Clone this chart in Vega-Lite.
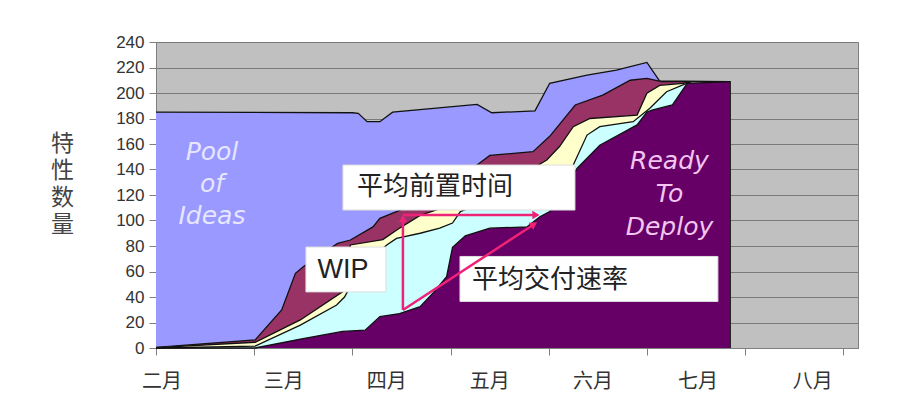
{
  "$schema": "https://vega.github.io/schema/vega-lite/v6.json",
  "width": 702,
  "height": 306,
  "autosize": "none",
  "padding": {"left": 156, "top": 42, "right": 53, "bottom": 61},
  "background": "white",
  "config": {
    "font": "Liberation Sans",
    "view": {"fill": "#C0C0C0", "stroke": "#7F7F7F", "strokeWidth": 1}
  },
  "resolve": {"axis": {"x": "independent", "y": "independent"}},
  "layer": [
    {
      "data": {
        "values": [
          {"s": "ideas", "t": 0, "v": 185}, {"s": "ideas", "t": 2.0, "v": 184.5}, {"s": "ideas", "t": 2.06, "v": 184},
          {"s": "ideas", "t": 2.15, "v": 177.5}, {"s": "ideas", "t": 2.28, "v": 177.5}, {"s": "ideas", "t": 2.41, "v": 185},
          {"s": "ideas", "t": 3.27, "v": 191}, {"s": "ideas", "t": 3.42, "v": 184.5}, {"s": "ideas", "t": 3.86, "v": 186},
          {"s": "ideas", "t": 4.01, "v": 207.6}, {"s": "ideas", "t": 4.39, "v": 214}, {"s": "ideas", "t": 4.69, "v": 218},
          {"s": "ideas", "t": 5.0, "v": 224}, {"s": "ideas", "t": 5.13, "v": 209.4}, {"s": "ideas", "t": 5.85, "v": 209},

          {"s": "stage1", "t": 0, "v": 0.5}, {"s": "stage1", "t": 1.01, "v": 6.3}, {"s": "stage1", "t": 1.28, "v": 29.8},
          {"s": "stage1", "t": 1.42, "v": 58.6}, {"s": "stage1", "t": 1.5, "v": 63.8}, {"s": "stage1", "t": 1.85, "v": 82},
          {"s": "stage1", "t": 1.98, "v": 84.7}, {"s": "stage1", "t": 2.21, "v": 95}, {"s": "stage1", "t": 2.28, "v": 101.7},
          {"s": "stage1", "t": 2.45, "v": 107}, {"s": "stage1", "t": 2.6, "v": 112}, {"s": "stage1", "t": 2.98, "v": 128},
          {"s": "stage1", "t": 3.27, "v": 143.5}, {"s": "stage1", "t": 3.4, "v": 151}, {"s": "stage1", "t": 3.84, "v": 154},
          {"s": "stage1", "t": 4.01, "v": 166}, {"s": "stage1", "t": 4.27, "v": 190.6}, {"s": "stage1", "t": 4.55, "v": 198.4},
          {"s": "stage1", "t": 4.83, "v": 210}, {"s": "stage1", "t": 5.0, "v": 211.5}, {"s": "stage1", "t": 5.15, "v": 209},
          {"s": "stage1", "t": 5.85, "v": 209},

          {"s": "stage2", "t": 0, "v": 0.3}, {"s": "stage2", "t": 1.01, "v": 4.5}, {"s": "stage2", "t": 1.47, "v": 22},
          {"s": "stage2", "t": 1.9, "v": 44}, {"s": "stage2", "t": 1.96, "v": 70}, {"s": "stage2", "t": 1.98, "v": 80.8},
          {"s": "stage2", "t": 2.31, "v": 85}, {"s": "stage2", "t": 2.46, "v": 93}, {"s": "stage2", "t": 2.69, "v": 104},
          {"s": "stage2", "t": 3.0, "v": 112}, {"s": "stage2", "t": 3.6, "v": 130}, {"s": "stage2", "t": 3.98, "v": 147.5},
          {"s": "stage2", "t": 4.11, "v": 158}, {"s": "stage2", "t": 4.25, "v": 173.6}, {"s": "stage2", "t": 4.42, "v": 180},
          {"s": "stage2", "t": 4.9, "v": 182.7}, {"s": "stage2", "t": 5.0, "v": 199.8}, {"s": "stage2", "t": 5.13, "v": 206},
          {"s": "stage2", "t": 5.37, "v": 207.6}, {"s": "stage2", "t": 5.44, "v": 209}, {"s": "stage2", "t": 5.85, "v": 209},

          {"s": "stage3", "t": 0, "v": 0}, {"s": "stage3", "t": 1.01, "v": 1.5}, {"s": "stage3", "t": 1.47, "v": 18},
          {"s": "stage3", "t": 1.84, "v": 33.7}, {"s": "stage3", "t": 1.92, "v": 40}, {"s": "stage3", "t": 2.08, "v": 62},
          {"s": "stage3", "t": 2.35, "v": 80.8}, {"s": "stage3", "t": 2.45, "v": 86}, {"s": "stage3", "t": 2.69, "v": 90},
          {"s": "stage3", "t": 2.89, "v": 94}, {"s": "stage3", "t": 3.02, "v": 98}, {"s": "stage3", "t": 3.1, "v": 107},
          {"s": "stage3", "t": 3.2, "v": 110}, {"s": "stage3", "t": 3.8, "v": 114}, {"s": "stage3", "t": 4.1, "v": 126},
          {"s": "stage3", "t": 4.25, "v": 143.5}, {"s": "stage3", "t": 4.39, "v": 167}, {"s": "stage3", "t": 4.52, "v": 173.6},
          {"s": "stage3", "t": 4.86, "v": 177.5}, {"s": "stage3", "t": 5.03, "v": 188}, {"s": "stage3", "t": 5.2, "v": 201},
          {"s": "stage3", "t": 5.41, "v": 207.8}, {"s": "stage3", "t": 5.46, "v": 209}, {"s": "stage3", "t": 5.85, "v": 209},

          {"s": "ready", "t": 0, "v": 0}, {"s": "ready", "t": 1.01, "v": 0}, {"s": "ready", "t": 1.47, "v": 7},
          {"s": "ready", "t": 1.9, "v": 13}, {"s": "ready", "t": 2.13, "v": 14}, {"s": "ready", "t": 2.28, "v": 24.6},
          {"s": "ready", "t": 2.48, "v": 27}, {"s": "ready", "t": 2.69, "v": 32.4}, {"s": "ready", "t": 2.82, "v": 43},
          {"s": "ready", "t": 2.96, "v": 56}, {"s": "ready", "t": 3.02, "v": 79}, {"s": "ready", "t": 3.15, "v": 88},
          {"s": "ready", "t": 3.4, "v": 94}, {"s": "ready", "t": 3.78, "v": 95}, {"s": "ready", "t": 3.91, "v": 103},
          {"s": "ready", "t": 4.01, "v": 107}, {"s": "ready", "t": 4.29, "v": 141}, {"s": "ready", "t": 4.52, "v": 159},
          {"s": "ready", "t": 4.9, "v": 175}, {"s": "ready", "t": 5.0, "v": 185}, {"s": "ready", "t": 5.06, "v": 186.7},
          {"s": "ready", "t": 5.26, "v": 190.6}, {"s": "ready", "t": 5.41, "v": 207.6}, {"s": "ready", "t": 5.85, "v": 209}
        ]
      },
      "encoding": {
        "x": {
          "field": "t", "type": "quantitative",
          "scale": {"domain": [0, 7.15], "nice": false, "zero": false},
          "axis": {"values": [0, 1, 2, 3, 4, 5, 6, 7], "labels": false, "grid": false, "title": null,
                   "domainColor": "#7F7F7F", "tickColor": "#7F7F7F", "tickSize": 7}
        },
        "y": {
          "field": "v", "type": "quantitative",
          "scale": {"domain": [0, 240], "nice": false},
          "axis": {
            "values": [0, 20, 40, 60, 80, 100, 120, 140, 160, 180, 200, 220, 240],
            "grid": true, "gridColor": "#7A7A7A", "gridWidth": 1, "domain": false,
            "tickColor": "#7F7F7F", "tickSize": 7, "labelFontSize": 17, "labelColor": "#333333", "labelPadding": 5,
            "title": ["特", "性", "数", "量"], "titleAngle": 0, "titleFont": "Noto Sans CJK SC", "titleFontSize": 23,
            "titleFontWeight": "normal", "titleColor": "#444444", "titleX": -94, "titleY": 101,
            "titleAlign": "center", "titleBaseline": "middle", "titleLineHeight": 27
          }
        }
      },
      "layer": [
        {"transform": [{"filter": "datum.s === 'ideas'"}], "mark": {"type": "area", "color": "#9999FF", "opacity": 1, "line": {"color": "#111111", "strokeWidth": 1.3}}},
        {"transform": [{"filter": "datum.s === 'stage1'"}], "mark": {"type": "area", "color": "#993366", "opacity": 1, "line": {"color": "#111111", "strokeWidth": 1.3}}},
        {"transform": [{"filter": "datum.s === 'stage2'"}], "mark": {"type": "area", "color": "#FFFFCC", "opacity": 1, "line": {"color": "#111111", "strokeWidth": 1.3}}},
        {"transform": [{"filter": "datum.s === 'stage3'"}], "mark": {"type": "area", "color": "#CCFFFF", "opacity": 1, "line": {"color": "#111111", "strokeWidth": 1.3}}},
        {"transform": [{"filter": "datum.s === 'ready'"}], "mark": {"type": "area", "color": "#660066", "opacity": 1, "line": {"color": "#111111", "strokeWidth": 1.3}}}
      ]
    },
    {
      "data": {"values": [{}]},
      "mark": {"type": "rule", "color": "#222222", "strokeWidth": 1.2},
      "encoding": {
        "x": {"datum": 5.85, "type": "quantitative", "scale": {"domain": [0, 7.15]}, "axis": null},
        "y": {"datum": 0, "type": "quantitative", "scale": {"domain": [0, 240]}, "axis": null},
        "y2": {"datum": 209}
      }
    },
    {
      "data": {"values": [{"m": "二月", "t": 0.06}, {"m": "三月", "t": 1.3}, {"m": "四月", "t": 2.35}, {"m": "五月", "t": 3.4},
                          {"m": "六月", "t": 4.45}, {"m": "七月", "t": 5.52}, {"m": "八月", "t": 6.69}]},
      "mark": {"type": "text", "font": "Noto Sans CJK SC", "fontSize": 20, "color": "#333333", "baseline": "middle"},
      "encoding": {
        "x": {"field": "t", "type": "quantitative", "scale": {"domain": [0, 7.15]}, "axis": null},
        "y": {"datum": -26.7, "type": "quantitative", "scale": {"domain": [0, 240]}, "axis": null},
        "text": {"field": "m"}
      }
    },
    {
      "data": {"values": [{}]},
      "mark": {"type": "text", "text": ["Pool", "of", "Ideas"], "font": "DejaVu Sans", "fontStyle": "italic", "fontSize": 25,
               "lineHeight": 32, "color": "#E6E6FF", "baseline": "middle"},
      "encoding": {
        "x": {"datum": 0.57, "type": "quantitative", "scale": {"domain": [0, 7.15]}, "axis": null},
        "y": {"datum": 153.7, "type": "quantitative", "scale": {"domain": [0, 240]}, "axis": null}
      }
    },
    {
      "data": {"values": [{}]},
      "mark": {"type": "text", "text": ["Ready", "To", "Deploy"], "font": "DejaVu Sans", "fontStyle": "italic", "fontSize": 25,
               "lineHeight": 33, "color": "#F2C6F0", "baseline": "middle"},
      "encoding": {
        "x": {"datum": 5.23, "type": "quantitative", "scale": {"domain": [0, 7.15]}, "axis": null},
        "y": {"datum": 147, "type": "quantitative", "scale": {"domain": [0, 240]}, "axis": null}
      }
    },
    {
      "data": {"values": [{}]},
      "mark": {"type": "rect", "fill": "white", "stroke": "#DDDDDD", "strokeWidth": 1},
      "encoding": {
        "x": {"datum": 1.904, "type": "quantitative", "scale": {"domain": [0, 7.15]}, "axis": null},
        "x2": {"datum": 4.267},
        "y": {"datum": 108.2, "type": "quantitative", "scale": {"domain": [0, 240]}, "axis": null},
        "y2": {"datum": 143.5}
      }
    },
    {
      "data": {"values": [{}]},
      "mark": {"type": "rect", "fill": "white", "stroke": "#DDDDDD", "strokeWidth": 1},
      "encoding": {
        "x": {"datum": 1.527, "type": "quantitative", "scale": {"domain": [0, 7.15]}, "axis": null},
        "x2": {"datum": 2.342},
        "y": {"datum": 44.0, "type": "quantitative", "scale": {"domain": [0, 240]}, "axis": null},
        "y2": {"datum": 79.2}
      }
    },
    {
      "data": {"values": [{}]},
      "mark": {"type": "rect", "fill": "white", "stroke": "#DDDDDD", "strokeWidth": 1},
      "encoding": {
        "x": {"datum": 3.096, "type": "quantitative", "scale": {"domain": [0, 7.15]}, "axis": null},
        "x2": {"datum": 5.723},
        "y": {"datum": 36.5, "type": "quantitative", "scale": {"domain": [0, 240]}, "axis": null},
        "y2": {"datum": 71.8}
      }
    },
    {
      "data": {"values": [{}]},
      "mark": {"type": "text", "text": "平均前置时间", "font": "Noto Sans CJK SC", "fontSize": 26, "color": "#222222", "align": "left", "baseline": "middle"},
      "encoding": {
        "x": {"datum": 2.047, "type": "quantitative", "scale": {"domain": [0, 7.15]}, "axis": null},
        "y": {"datum": 126.3, "type": "quantitative", "scale": {"domain": [0, 240]}, "axis": null}
      }
    },
    {
      "data": {"values": [{}]},
      "mark": {"type": "text", "text": "WIP", "font": "Liberation Sans", "fontSize": 27, "color": "#222222", "align": "center", "baseline": "middle"},
      "encoding": {
        "x": {"datum": 1.904, "type": "quantitative", "scale": {"domain": [0, 7.15]}, "axis": null},
        "y": {"datum": 61.2, "type": "quantitative", "scale": {"domain": [0, 240]}, "axis": null}
      }
    },
    {
      "data": {"values": [{}]},
      "mark": {"type": "text", "text": "平均交付速率", "font": "Noto Sans CJK SC", "fontSize": 26, "color": "#222222", "align": "left", "baseline": "middle"},
      "encoding": {
        "x": {"datum": 3.218, "type": "quantitative", "scale": {"domain": [0, 7.15]}, "axis": null},
        "y": {"datum": 53.3, "type": "quantitative", "scale": {"domain": [0, 240]}, "axis": null}
      }
    },
    {
      "data": {"values": [{}]},
      "mark": {"type": "rule", "color": "#EE2277", "strokeWidth": 2.5},
      "encoding": {
        "x": {"datum": 2.515, "type": "quantitative", "scale": {"domain": [0, 7.15]}, "axis": null},
        "y": {"datum": 29.8, "type": "quantitative", "scale": {"domain": [0, 240]}, "axis": null},
        "y2": {"datum": 102}
      }
    },
    {
      "data": {"values": [{}]},
      "mark": {"type": "rule", "color": "#EE2277", "strokeWidth": 2.5},
      "encoding": {
        "x": {"datum": 2.515, "type": "quantitative", "scale": {"domain": [0, 7.15]}, "axis": null},
        "x2": {"datum": 3.86},
        "y": {"datum": 104.3, "type": "quantitative", "scale": {"domain": [0, 240]}, "axis": null}
      }
    },
    {
      "data": {"values": [{}]},
      "mark": {"type": "rule", "color": "#EE2277", "strokeWidth": 2.5},
      "encoding": {
        "x": {"datum": 2.515, "type": "quantitative", "scale": {"domain": [0, 7.15]}, "axis": null},
        "x2": {"datum": 3.84},
        "y": {"datum": 29.8, "type": "quantitative", "scale": {"domain": [0, 240]}, "axis": null},
        "y2": {"datum": 96.5}
      }
    },
    {
      "data": {"values": [{}]},
      "mark": {"type": "point", "shape": "triangle-up", "filled": true, "opacity": 1, "size": 70, "color": "#EE2277"},
      "encoding": {
        "x": {"datum": 2.515, "type": "quantitative", "scale": {"domain": [0, 7.15]}, "axis": null},
        "y": {"datum": 101.5, "type": "quantitative", "scale": {"domain": [0, 240]}, "axis": null}
      }
    },
    {
      "data": {"values": [{}]},
      "mark": {"type": "point", "shape": "triangle-right", "filled": true, "opacity": 1, "size": 70, "color": "#EE2277"},
      "encoding": {
        "x": {"datum": 3.87, "type": "quantitative", "scale": {"domain": [0, 7.15]}, "axis": null},
        "y": {"datum": 104.3, "type": "quantitative", "scale": {"domain": [0, 240]}, "axis": null}
      }
    },
    {
      "data": {"values": [{}]},
      "mark": {"type": "point", "shape": "triangle-up", "angle": 57, "filled": true, "opacity": 1, "size": 70, "color": "#EE2277"},
      "encoding": {
        "x": {"datum": 3.85, "type": "quantitative", "scale": {"domain": [0, 7.15]}, "axis": null},
        "y": {"datum": 97, "type": "quantitative", "scale": {"domain": [0, 240]}, "axis": null}
      }
    }
  ]
}
